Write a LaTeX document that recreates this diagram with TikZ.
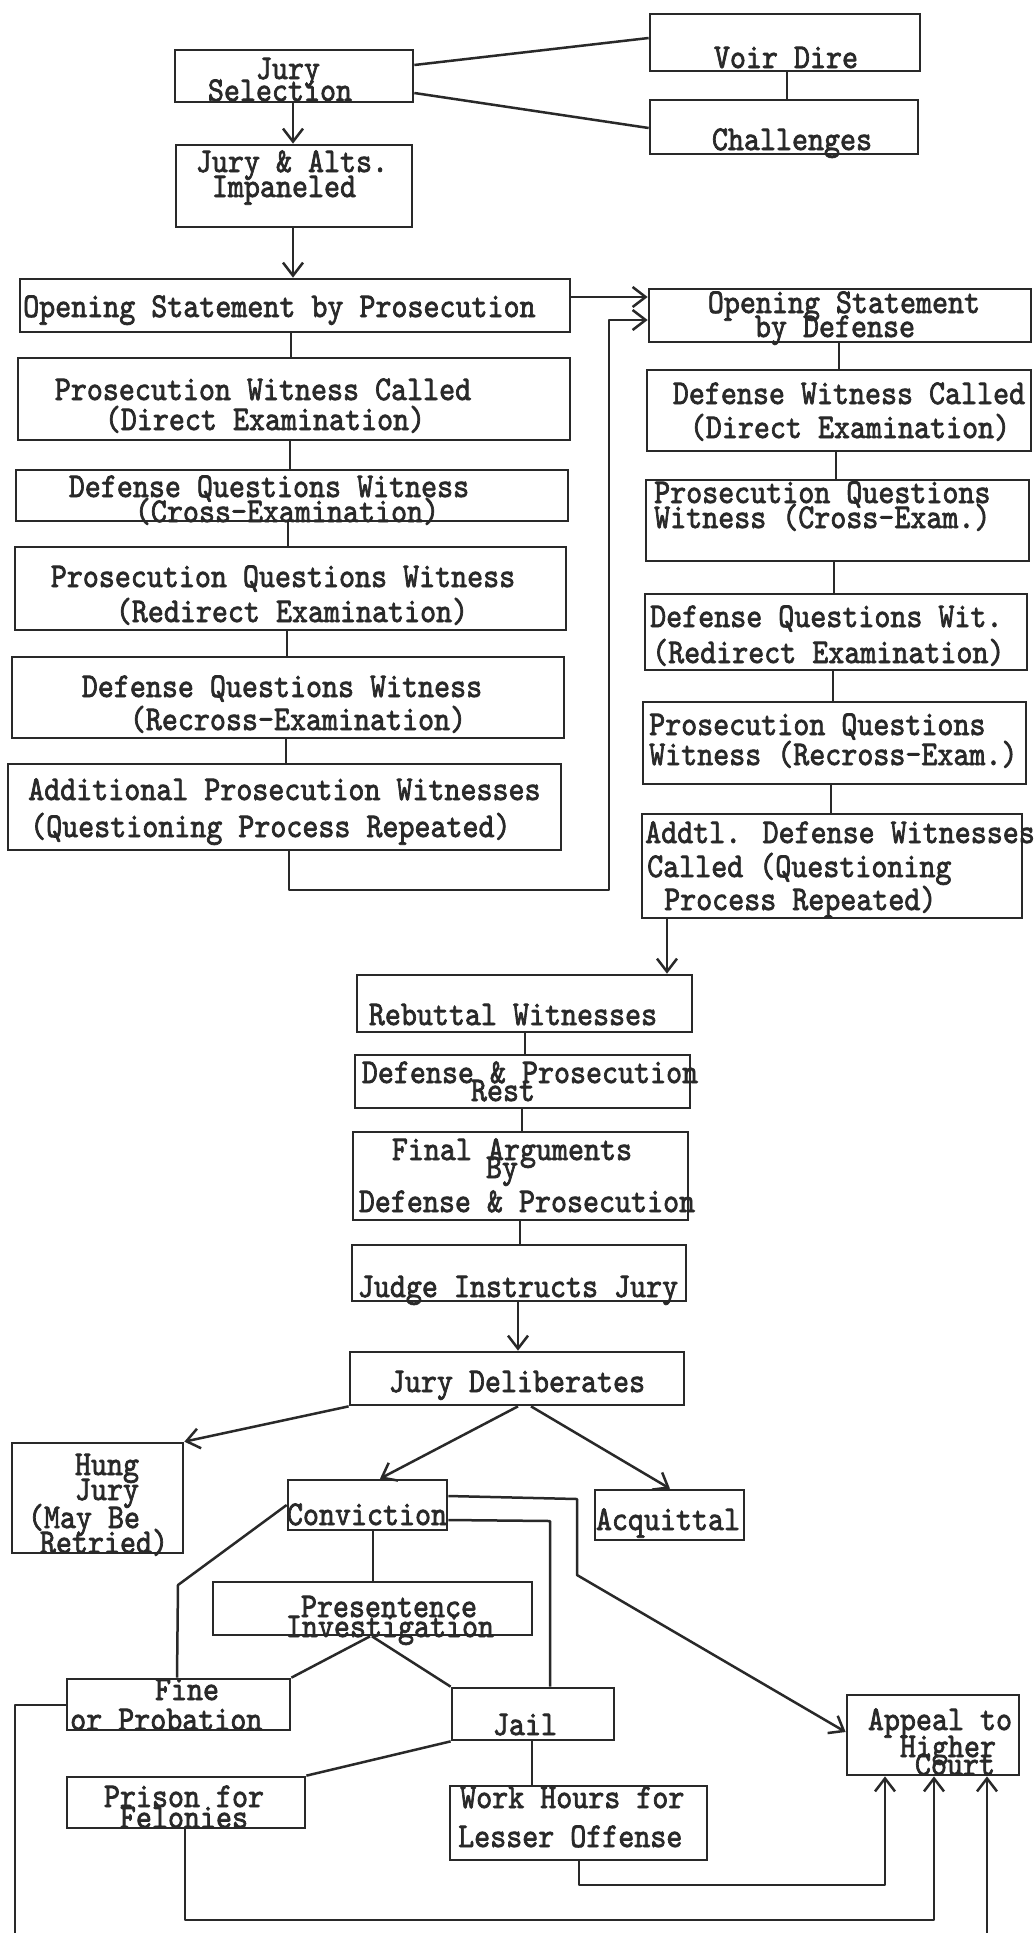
\documentclass[tikz,border=0pt]{standalone}
\usepackage{fontspec}
\newfontfamily\tw{lmmono10-regular.otf}[FakeBold=2.2]
\usetikzlibrary{arrows.meta,fit}
\definecolor{ink}{gray}{0.16}
\tikzset{
  box/.style={draw=ink, line width=2.7pt, inner sep=0pt, rectangle},
  tx/.style={inner sep=0pt, anchor=base, text=ink, yscale=1.14, transform shape, font=\tw\fontsize{30.5}{36}\selectfont},
  txl/.style={tx, anchor=base west},
  con/.style={draw=ink, line width=2.5pt, line join=round},
  arr/.style={con, -{Straight Barb[length=13pt,width=20pt]}}
}
\begin{document}
\begin{tikzpicture}[x=1pt,y=-1pt]
\fill[white] (0,0) rectangle (1035,1933);
\useasboundingbox (0,0) rectangle (1035,1933);

% ---------- boxes ----------
\node[box, fit={(175,50) (413,102)}] (jsel) {};
\node[box, fit={(650,14) (920,71)}] (voir) {};
\node[box, fit={(650,100) (918,154)}] (chal) {};
\node[box, fit={(176,145) (412,227)}] (jalts) {};
\node[box, fit={(20,279) (570,332)}] (osp) {};
\node[box, fit={(18,358) (570,440)}] (pwc) {};
\node[box, fit={(16,470) (568,521)}] (dqwc) {};
\node[box, fit={(15,547) (566,630)}] (pqwr) {};
\node[box, fit={(12,657) (564,738)}] (dqwr) {};
\node[box, fit={(8,764) (561,850)}] (apw) {};
\node[box, fit={(649,289) (1031,342)}] (osd) {};
\node[box, fit={(647,370) (1031,451)}] (dwc) {};
\node[box, fit={(646,480) (1029,561)}] (pqwx) {};
\node[box, fit={(645,594) (1027,670)}] (dqwd) {};
\node[box, fit={(643,702) (1026,784)}] (pqwrx) {};
\node[box, fit={(642,814) (1022,918)}] (addtl) {};
\node[box, fit={(357,975) (692,1032)}] (reb) {};
\node[box, fit={(355,1055) (690,1108)}] (dpr) {};
\node[box, fit={(353,1132) (688,1220)}] (fa) {};
\node[box, fit={(352,1245) (686,1301)}] (jij) {};
\node[box, fit={(350,1352) (684,1405)}] (jd) {};
\node[box, fit={(12,1443) (183,1553)}] (hung) {};
\node[box, fit={(288,1480) (447,1530)}] (conv) {};
\node[box, fit={(595,1490) (744,1540)}] (acq) {};
\node[box, fit={(213,1582) (532,1635)}] (pres) {};
\node[box, fit={(67,1679) (290,1730)}] (fine) {};
\node[box, fit={(452,1688) (614,1740)}] (jail) {};
\node[box, fit={(67,1777) (305,1828)}] (prison) {};
\node[box, fit={(450,1786) (707,1860)}] (work) {};
\node[box, fit={(847,1695) (1019,1775)}] (appeal) {};

% ---------- texts ----------
\node[tx] (jsel-a) at (288,79) {Jury};
\node[tx] (jsel-b) at (280,101) {Selection};
\node[tx] (voir-a) at (786,68) {Voir Dire};
\node[tx] (chal-a) at (792,150) {Challenges};
\node[tx] (jalts-a) at (292,172) {Jury \& Alts.};
\node[tx] (jalts-b) at (284,197) {Impaneled};
\node[txl] (osp-a) at (23,317) {Opening Statement by Prosecution};
\node[tx] (pwc-a) at (263,400) {Prosecution Witness Called};
\node[tx] (pwc-b) at (265,430) {(Direct Examination)};
\node[tx] (dqwc-a) at (269,497) {Defense Questions Witness};
\node[tx] (dqwc-b) at (287,522) {(Cross-Examination)};
\node[tx] (pqwr-a) at (283,587) {Prosecution Questions Witness};
\node[tx] (pqwr-b) at (292,622) {(Redirect Examination)};
\node[tx] (dqwr-a) at (282,697) {Defense Questions Witness};
\node[tx] (dqwr-b) at (298,730) {(Recross-Examination)};
\node[txl] (apw-a) at (28,800) {Additional Prosecution Witnesses};
\node[txl] (apw-b) at (30,837) {(Questioning Process Repeated)};
\node[tx] (osd-a) at (844,313) {Opening Statement};
\node[tx] (osd-b) at (835,337) {by Defense};
\node[tx] (dwc-a) at (849,404) {Defense Witness Called};
\node[tx] (dwc-b) at (850,438) {(Direct Examination)};
\node[txl] (pqwx-a) at (654,503) {Prosecution Questions};
\node[txl] (pqwx-b) at (654,528) {Witness (Cross-Exam.)};
\node[txl] (dqwd-a) at (650,627) {Defense Questions Wit.};
\node[txl] (dqwd-b) at (652,663) {(Redirect Examination)};
\node[txl] (pqwrx-a) at (649,735) {Prosecution Questions};
\node[txl] (pqwrx-b) at (649,765) {Witness (Recross-Exam.)};
\node[txl] (addtl-a) at (645,843) {Addtl. Defense Witnesses};
\node[txl] (addtl-b) at (647,877) {Called (Questioning};
\node[txl] (addtl-c) at (664,910) {Process Repeated)};
\node[tx] (reb-a) at (513,1025) {Rebuttal Witnesses};
\node[tx] (dpr-a) at (530,1083) {Defense \& Prosecution};
\node[tx] (dpr-b) at (503,1101) {Rest};
\node[tx] (fa-a) at (512,1160) {Final Arguments};
\node[tx] (fa-b) at (502,1178) {By};
\node[tx] (fa-c) at (527,1212) {Defense \& Prosecution};
\node[tx] (jij-a) at (518,1297) {Judge Instructs Jury};
\node[tx] (jd-a) at (517,1392) {Jury Deliberates};
\node[tx] (hung-a) at (107,1475) {Hung};
\node[tx] (hung-b) at (107,1500) {Jury};
\node[tx] (hung-c) at (84,1528) {(May Be};
\node[tx] (hung-d) at (104,1553) {Retried)};
\node[tx] (conv-a) at (367,1525) {Conviction};
\node[tx] (acq-a) at (668,1530) {Acquittal};
\node[tx] (pres-a) at (389,1617) {Presentence};
\node[tx] (pres-b) at (390,1637) {Investigation};
\node[tx] (fine-a) at (187,1700) {Fine};
\node[txl] (fine-b) at (70,1730) {or Probation};
\node[tx] (jail-a) at (525,1735) {Jail};
\node[tx] (prison-a) at (184,1807) {Prison for};
\node[tx] (prison-b) at (184,1828) {Felonies};
\node[txl] (work-a) at (460,1808) {Work Hours for};
\node[txl] (work-b) at (458,1847) {Lesser Offense};
\node[tx] (appeal-a) at (940,1730) {Appeal to};
\node[tx] (appeal-b) at (948,1757) {Higher};
\node[tx] (appeal-c) at (955,1775) {Court};

% ---------- free ends ----------
\coordinate (fbot) at (15,1933);
\coordinate (abot) at (987,1933);

% ---------- connectors ----------
\draw[con] (jsel.east |- 0,65) -- (voir.west |- 0,38);
\draw[con] (jsel.east |- 0,93) -- (chal.west |- 0,128);
\draw[con] (voir.south -| 787,0) -- (chal.north -| 787,0);
\draw[arr] (jsel.south -| 293,0) -- (jalts.north -| 293,0);
\draw[arr] (jalts.south -| 293,0) -- (osp.north -| 293,0);
\draw[arr] (osp.east |- 0,297) -- (osd.west |- 0,297);
\draw[con] (osp.south -| 291,0) -- (pwc.north -| 291,0);
\draw[con] (pwc.south -| 290,0) -- (dqwc.north -| 290,0);
\draw[con] (dqwc.south -| 288,0) -- (pqwr.north -| 288,0);
\draw[con] (pqwr.south -| 287,0) -- (dqwr.north -| 287,0);
\draw[con] (dqwr.south -| 286,0) -- (apw.north -| 286,0);
\draw[arr] (apw.south -| 289,0) -- (289,890) -- (609,890) -- (609,320) -- (osd.west |- 0,320);
\draw[con] (osd.south -| 839,0) -- (dwc.north -| 839,0);
\draw[con] (dwc.south -| 836,0) -- (pqwx.north -| 836,0);
\draw[con] (pqwx.south -| 834,0) -- (dqwd.north -| 834,0);
\draw[con] (dqwd.south -| 833,0) -- (pqwrx.north -| 833,0);
\draw[con] (pqwrx.south -| 831,0) -- (addtl.north -| 831,0);
\draw[arr] (addtl.south -| 667,0) -- (reb.north -| 667,0);
\draw[con] (reb.south -| 525,0) -- (dpr.north -| 525,0);
\draw[con] (dpr.south -| 522,0) -- (fa.north -| 522,0);
\draw[con] (fa.south -| 520,0) -- (jij.north -| 520,0);
\draw[arr] (jij.south -| 518,0) -- (jd.north -| 518,0);
\draw[arr] (jd.south west) -- (hung.north east);
\draw[arr] (jd.south -| 518,0) -- (conv.north -| 380,0);
\draw[arr] (jd.south -| 531,0) -- (acq.north -| 670,0);
\draw[con] (conv.south -| 373,0) -- (pres.north -| 373,0);
\draw[con] (conv.west |- 0,1505) -- (178,1585) -- (fine.north -| 177,0);
\draw[con] (conv.east |- 0,1520) -- (550,1521) -- (jail.north -| 550,0);
\draw[arr] (conv.east |- 0,1496) -- (577,1499) -- (577,1575) -- (appeal.west |- 0,1732);
\draw[con] (pres.south -| 370,0) -- (fine.north east);
\draw[con] (pres.south -| 372,0) -- (jail.north west);
\draw[con] (fine.west |- 0,1705) -- (15,1705) -- (fbot);
\draw[con] (jail.south west) -- (prison.north east);
\draw[con] (jail.south -| 532,0) -- (work.north -| 532,0);
\draw[arr] (work.south -| 579,0) -- (579,1885) -- (885,1885) -- (appeal.south -| 885,0);
\draw[arr] (prison.south -| 185,0) -- (185,1920) -- (934,1920) -- (appeal.south -| 934,0);
\draw[arr] (abot) -- (appeal.south -| 987,0);
\end{tikzpicture}
\end{document}
